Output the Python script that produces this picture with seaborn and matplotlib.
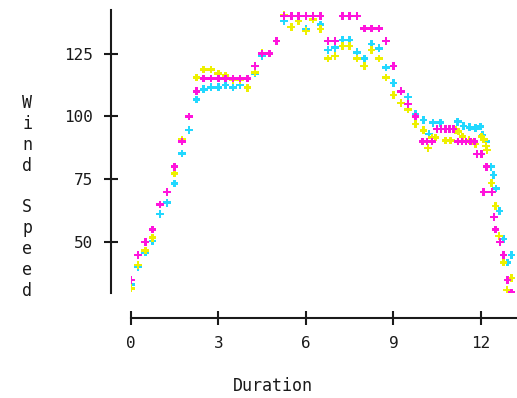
import matplotlib
matplotlib.use("Agg")
import matplotlib.pyplot as plt
import seaborn as sns
import pandas as pd

# ---- data ----
mag_x = [0, 0.25, 0.5, 0.75, 1.0, 1.25, 1.5, 1.75, 2.0, 2.25, 2.5, 2.75, 3.0, 3.25,
         3.5, 3.75, 4.0, 4.25, 4.5, 4.75, 5.0, 5.25, 5.5, 5.75, 6.0, 6.25, 6.5, 6.75,
         7.0, 7.25, 7.5, 7.75, 8.0, 8.25, 8.5, 8.75, 9.0, 9.25, 9.5, 9.75, 10.0,
         10.15, 10.32, 10.49, 10.63, 10.78, 10.91, 11.06, 11.21, 11.35, 11.48, 11.63,
         11.78, 11.86, 12.01, 12.09, 12.18, 12.37, 12.44, 12.5, 12.64, 12.77, 12.91, 13.04]
mag_y = [35, 45, 50, 55, 65, 70, 80, 90, 100, 110, 115, 115, 115, 115, 115, 115, 115,
         120, 125, 125, 130, 140, 140, 140, 140, 140, 140, 130, 130, 140, 140, 140,
         135, 135, 135, 130, 120, 110, 105, 100, 90,
         90, 90, 95, 95, 95, 95, 95, 90, 90, 90, 90, 90, 85, 85, 70, 80, 70, 60, 55,
         50, 45, 35, 30]

cyan_x = [0, 0.25, 0.5, 0.75, 1.0, 1.25, 1.5, 1.75, 2.0, 2.25, 2.5, 2.75, 3.0, 3.25,
          3.5, 3.75, 4.25, 4.5, 5.25, 5.75, 6.0, 6.5, 6.75, 7.0, 7.25, 7.5, 7.75, 8.0,
          8.25, 8.5, 8.75, 9.0, 9.5, 9.75, 10.03, 10.21, 10.35, 10.61, 11.2, 11.4,
          11.61, 11.8, 11.98, 12.05, 12.17, 12.34, 12.43, 12.51, 12.63, 12.77, 12.91, 13.04]
cyan_y = [33.3, 40.1, 45.9, 50.5, 61.2, 65.7, 73.4, 85.2, 94.6, 106.8, 110.8, 111.6,
          111.6, 112.4, 111.6, 112.4, 117, 124, 137.9, 137.9, 134.7, 136.6, 126.4,
          127.3, 130.4, 130.4, 125.5, 123.1, 128.7, 127.1, 119.5, 113.2, 107.8, 101,
          98.6, 93, 97.5, 97.5, 97.9, 96.2, 95.7, 95.3, 96, 92.6, 90, 80, 76.7, 71.4,
          62.5, 51.2, 41.9, 45]

yel_x = [0, 0.25, 0.5, 0.75, 1.5, 1.75, 2.25, 2.5, 2.75, 3.0, 3.25, 3.5, 3.75, 4.0,
         4.25, 4.5, 5.0, 5.25, 5.5, 5.75, 6.0, 6.25, 6.5, 6.75, 7.0, 7.25, 7.5, 7.75,
         8.0, 8.25, 8.5, 8.75, 9.0, 9.25, 9.5, 9.75, 10.03, 10.18, 10.32, 10.44, 10.78,
         10.96, 11.12, 11.23, 11.37, 11.58, 11.8, 12.01, 12.09, 12.17, 12.21, 12.35,
         12.49, 12.62, 12.77, 12.89, 13.04]
yel_y = [31.7, 41, 46.7, 51.8, 77.4, 90.9, 115.5, 118.7, 118.7, 117.1, 116.3, 114.5,
         114.5, 111.4, 117.4, 125.3, 130, 140.3, 135.6, 138, 133.9, 138.6, 134.7, 123.1,
         124, 127.9, 127.9, 123.1, 120, 126.4, 123.1, 115.5, 108.5, 105.3, 102.8, 97,
         94.5, 87.5, 91.7, 91.7, 90.5, 90.4, 94.6, 94, 92, 90.6, 89, 92, 90.9, 88.2,
         86.7, 73.5, 64.4, 52.5, 41.9, 31, 35.7]

series_names = ["Model B", "Model A", "Observed"]
series_colors = ["#22d8ff", "#eef000", "#ff14dc"]
x_ticks = [0, 3, 6, 9, 12]
y_ticks = [50, 75, 100, 125]

df = pd.concat([
    pd.DataFrame({"Duration": cyan_x, "Wind Speed": cyan_y, "series": series_names[0]}),
    pd.DataFrame({"Duration": yel_x, "Wind Speed": yel_y, "series": series_names[1]}),
    pd.DataFrame({"Duration": mag_x, "Wind Speed": mag_y, "series": series_names[2]}),
], ignore_index=True)

sns.set_style("ticks")
plt.rcParams["font.family"] = ["DejaVu Sans Mono"]

W, H = 517, 398
fig = plt.figure(figsize=(W / 100, H / 100), dpi=100)
ax = fig.add_axes([130.7 / W, 1 - 293.3 / H, (W - 130.7) / W, (293.3 - 10) / H])

sns.scatterplot(data=df, x="Duration", y="Wind Speed", hue="series",
                hue_order=series_names, palette=series_colors,
                marker="P", s=30, linewidth=0, legend=False, ax=ax, zorder=3)

ax.set_xlim(0, 13.23)
ax.set_ylim(29.7, 142.3)
ax.set_xticks(x_ticks)
ax.set_yticks(y_ticks)
ax.set_xlabel("")
ax.set_ylabel("")

for side in ["top", "right"]:
    ax.spines[side].set_visible(False)
ax.spines["left"].set_position(("outward", 14.2))
ax.spines["bottom"].set_position(("outward", 17.8))
for side in ["left", "bottom"]:
    ax.spines[side].set_linewidth(1.5)
    ax.spines[side].set_color("#1a1a1a")

ax.tick_params(axis="both", direction="inout", length=9.4, width=1.5,
               color="#1a1a1a", pad=8.5, labelsize=11.5, labelcolor="#1a1a1a")

fig.text(273 / W, 1 - 386 / H, "Duration", ha="center", va="center",
         fontsize=12, color="#1a1a1a")
fig.text(27 / W, 1 - 197 / H, "W\ni\nn\nd\n\nS\np\ne\ne\nd", ha="center",
         va="center", fontsize=12, color="#1a1a1a", linespacing=1.2)

fig.savefig("out.png", dpi=100)
